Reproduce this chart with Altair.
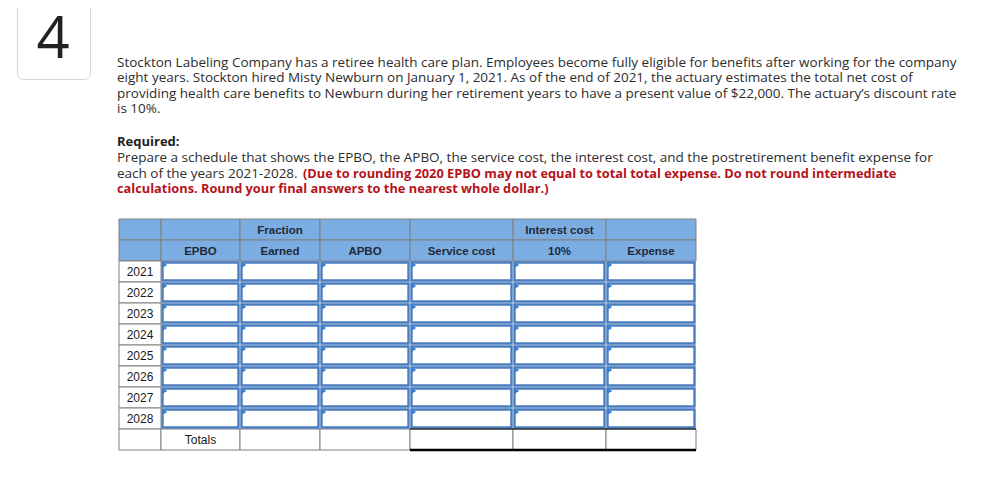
import altair as alt
import pandas as pd

# ---------------- content (data) ----------------
question_number = "4"
para_lines = [
    "Stockton Labeling Company has a retiree health care plan. Employees become fully eligible for benefits after working for the company",
    "eight years. Stockton hired Misty Newburn on January 1, 2021. As of the end of 2021, the actuary estimates the total net cost of",
    "providing health care benefits to Newburn during her retirement years to have a present value of $22,000. The actuary\u2019s discount rate",
    "is 10%.",
]
required_label = "Required:"
req_line1 = "Prepare a schedule that shows the EPBO, the APBO, the service cost, the interest cost, and the postretirement benefit expense for"
req_line2_plain = "each of the years 2021-2028."
req_line2_red = "(Due to rounding 2020 EPBO may not equal to total total expense. Do not round intermediate"
req_line3_red = "calculations. Round your final answers to the nearest whole dollar.)"

header_row1 = ["", "", "Fraction", "", "", "Interest cost", ""]
header_row2 = ["", "EPBO", "Earned", "APBO", "Service cost", "10%", "Expense"]
years = ["2021", "2022", "2023", "2024", "2025", "2026", "2027", "2028"]
totals_label = "Totals"

# ---------------- layout (page pixel coordinates) ----------------
col_edges = [119, 161, 240, 320, 410, 513, 606, 696]
table_top = 219
row_h = 21
para_x = 117
para_base = [66.5, 82, 97.5, 113]
req_base = [146, 162, 177.5, 193]
red_x = 303

TEXT = "#2d2d2d"
RED = "#b5121b"
HEAD_BG = "#7bade3"
GRID = "#808080"
BLUE = "#4a7dbd"
TRI = "#3a7fd6"

xs = alt.Scale(domain=[8, 976], nice=False, zero=False)
ys = alt.Scale(domain=[8, 496], nice=False, zero=False, reverse=True)


def X(f):
    return alt.X(f, type="quantitative", scale=xs, axis=None)


def Y(f):
    return alt.Y(f, type="quantitative", scale=ys, axis=None)


def X2(f):
    return alt.X2(f)


def Y2(f):
    return alt.Y2(f)


layers = []

# question number box
box = pd.DataFrame([{"x": 17.5, "x2": 90.5, "y": -30, "y2": 79.5}])
layers.append(
    alt.Chart(box).mark_rect(fill="white", stroke="#d6d6d6", strokeWidth=1, cornerRadius=6, clip=True)
    .encode(x=X("x"), x2=X2("x2"), y=Y("y"), y2=Y2("y2"))
)
num = pd.DataFrame([{"x": 53, "y": 58, "t": question_number}])
layers.append(
    alt.Chart(num).mark_text(font="Open Sans", fontSize=58, fontWeight="normal", color="#222222",
                             align="center", baseline="alphabetic")
    .encode(x=X("x"), y=Y("y"), text="t:N")
)

# paragraph text
plain_rows = [{"x": para_x, "y": b, "t": t} for b, t in zip(para_base, para_lines)]
plain_rows.append({"x": para_x, "y": req_base[1], "t": req_line1})
plain_rows.append({"x": para_x, "y": req_base[2], "t": req_line2_plain})
layers.append(
    alt.Chart(pd.DataFrame(plain_rows)).mark_text(font="Open Sans", fontSize=13.5, color=TEXT,
                                                  align="left", baseline="alphabetic")
    .encode(x=X("x"), y=Y("y"), text="t:N")
)
layers.append(
    alt.Chart(pd.DataFrame([{"x": para_x, "y": req_base[0], "t": required_label}]))
    .mark_text(font="Open Sans", fontSize=13, fontWeight="bold", color="#222222",
               align="left", baseline="alphabetic")
    .encode(x=X("x"), y=Y("y"), text="t:N")
)
red_rows = [{"x": red_x, "y": req_base[2], "t": req_line2_red},
            {"x": para_x, "y": req_base[3], "t": req_line3_red}]
layers.append(
    alt.Chart(pd.DataFrame(red_rows)).mark_text(font="Open Sans", fontSize=12.8, fontWeight="bold", color=RED,
                                                align="left", baseline="alphabetic")
    .encode(x=X("x"), y=Y("y"), text="t:N")
)

# ---------------- table ----------------
ncol = len(col_edges) - 1
head_cells, plain_cells, input_cells, tris = [], [], [], []
for r in range(2):
    for c in range(ncol):
        head_cells.append({"x": col_edges[c], "x2": col_edges[c + 1],
                           "y": table_top + r * row_h, "y2": table_top + (r + 1) * row_h})
for i, yr in enumerate(years):
    y0 = table_top + (2 + i) * row_h
    plain_cells.append({"x": col_edges[0], "x2": col_edges[1], "y": y0, "y2": y0 + row_h})
    for c in range(1, ncol):
        input_cells.append({"x": col_edges[c] + 1.5, "x2": col_edges[c + 1] - 1.5,
                            "y": y0 + 1.5, "y2": y0 + row_h - 1.5})
        tris.append({"x": col_edges[c] + 4, "y": y0 + 4})
ty = table_top + (2 + len(years)) * row_h
for c in range(ncol):
    plain_cells.append({"x": col_edges[c], "x2": col_edges[c + 1], "y": ty, "y2": ty + row_h})

layers.append(
    alt.Chart(pd.DataFrame(head_cells)).mark_rect(fill=HEAD_BG, stroke=GRID, strokeWidth=1)
    .encode(x=X("x"), x2=X2("x2"), y=Y("y"), y2=Y2("y2"))
)
layers.append(
    alt.Chart(pd.DataFrame(plain_cells)).mark_rect(fill="white", stroke=GRID, strokeWidth=1)
    .encode(x=X("x"), x2=X2("x2"), y=Y("y"), y2=Y2("y2"))
)
layers.append(
    alt.Chart(pd.DataFrame(input_cells)).mark_rect(fill="white", stroke=BLUE, strokeWidth=2.4)
    .encode(x=X("x"), x2=X2("x2"), y=Y("y"), y2=Y2("y2"))
)
layers.append(
    alt.Chart(pd.DataFrame(tris)).mark_point(shape="triangle-right", filled=True, size=28, color=TRI, opacity=1)
    .encode(x=X("x"), y=Y("y"))
)

# totals black rules under the last three columns
rules = pd.DataFrame([{"x": col_edges[4], "x2": col_edges[7], "y": ty}])
layers.append(
    alt.Chart(rules).mark_rule(color="black", strokeWidth=1)
    .encode(x=X("x"), x2=X2("x2"), y=Y("y"))
)
rules2 = pd.DataFrame([{"x": col_edges[4], "x2": col_edges[7], "y": ty + row_h}])
layers.append(
    alt.Chart(rules2).mark_rule(color="black", strokeWidth=2.5)
    .encode(x=X("x"), x2=X2("x2"), y=Y("y"))
)

# header text
htext = []
for r, row in enumerate([header_row1, header_row2]):
    for c, t in enumerate(row):
        if t:
            htext.append({"x": (col_edges[c] + col_edges[c + 1]) / 2,
                          "y": table_top + r * row_h + 14.5, "t": t})
layers.append(
    alt.Chart(pd.DataFrame(htext)).mark_text(font="Liberation Sans", fontSize=11.5, fontWeight="bold",
                                             color="#1f2a36", align="center", baseline="alphabetic")
    .encode(x=X("x"), y=Y("y"), text="t:N")
)
ytext = [{"x": (col_edges[0] + col_edges[1]) / 2, "y": table_top + (2 + i) * row_h + 15, "t": yr}
         for i, yr in enumerate(years)]
ytext.append({"x": (col_edges[1] + col_edges[2]) / 2, "y": ty + 15, "t": totals_label})
layers.append(
    alt.Chart(pd.DataFrame(ytext)).mark_text(font="Liberation Sans", fontSize=12, color="#1a1a1a",
                                             align="center", baseline="alphabetic")
    .encode(x=X("x"), y=Y("y"), text="t:N")
)

chart = alt.layer(*layers).properties(
    width=968, height=488, padding=0, autosize=alt.AutoSizeParams(type="none"), background="white"
).configure_view(strokeWidth=0)

chart.save("out.html", embed_options={"renderer": "svg", "actions": False})
